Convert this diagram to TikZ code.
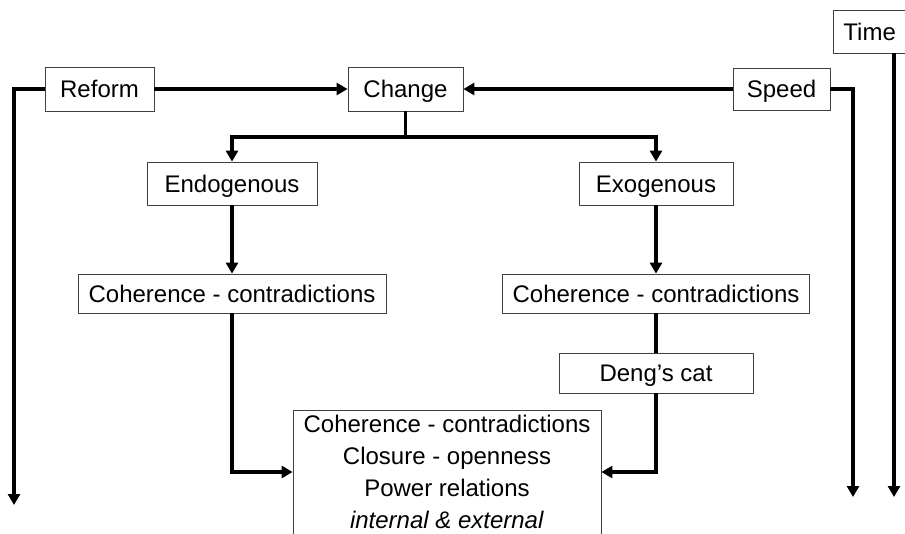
\documentclass[tikz,border=0pt]{standalone}
\usepackage{fontspec}
\setmainfont{Liberation Sans}
\usetikzlibrary{arrows.meta}
\tikzset{
    box/.style={draw=black!75, line width=.8pt, inner sep=0pt, minimum height=40pt, font=\fontsize{24}{32}\selectfont},
    label box/.style={box, text height=17pt, text depth=0pt},
    link/.style={line width=3.2pt},
}

\begin{document}
\begin{tikzpicture}[x=1pt, y=-1pt, >={Triangle[width=12pt,length=11pt]}]
\useasboundingbox (0,0) rectangle (905,533);
% top row
\node[label box, minimum width=109pt, minimum height=44pt] (reform) at (99.5,89) {Reform};
\node[label box, minimum width=115pt, minimum height=44pt] (change) at (405.5,89) {Change};
\node[label box, minimum width=97pt, minimum height=42pt] (speed) at (781.5,89) {Speed};
\node[label box, anchor=west, minimum height=43pt, inner xsep=10pt, text width=70pt, align=left] (time) at (833,31.5) {Time};
% middle
\node[label box, minimum width=170pt, minimum height=43pt] (endo) at (232,183.5) {Endogenous};
\node[label box, minimum width=154pt, minimum height=43pt] (exo) at (656,183.5) {Exogenous};
\node[label box, minimum width=308pt, minimum height=39pt] (cohL) at (232,293.5) {Coherence - contradictions};
\node[label box, minimum width=307pt, minimum height=39pt] (cohR) at (656,293.5) {Coherence - contradictions};
\node[label box, minimum width=194pt, minimum height=40pt] (deng) at (656,373) {Deng’s cat};
\node[box, minimum width=308pt, minimum height=124pt, align=center] (core) at (447,472)
    {Coherence - contradictions\\Closure - openness\\Power relations\\\textit{internal \& external}};

\coordinate (split) at (405.5,137);
\coordinate (reformEnd) at (14,505);
\coordinate (speedEnd) at (853,497);
\coordinate (timeEnd) at (894,497);

\draw[link,->] (reform) -- (change);
\draw[link,->] (speed) -- (change);
\draw[link] (change.south) -- (split);
\draw[link,->] (split) -| (endo.north);
\draw[link,->] (split) -| (exo.north);
\draw[link,->] (reform.west) -| (reformEnd);
\draw[link,->] (speed.east) -| (speedEnd);
\draw[link,->] (timeEnd |- time.south) -- (timeEnd);
\draw[link,->] (endo) -- (cohL);
\draw[link,->] (exo) -- (cohR);
\draw[link] (cohR) -- (deng);
\draw[link,->] (cohL.south) |- (core.west);
\draw[link,->] (deng.south) |- (core.east);
\end{tikzpicture}
\end{document}
